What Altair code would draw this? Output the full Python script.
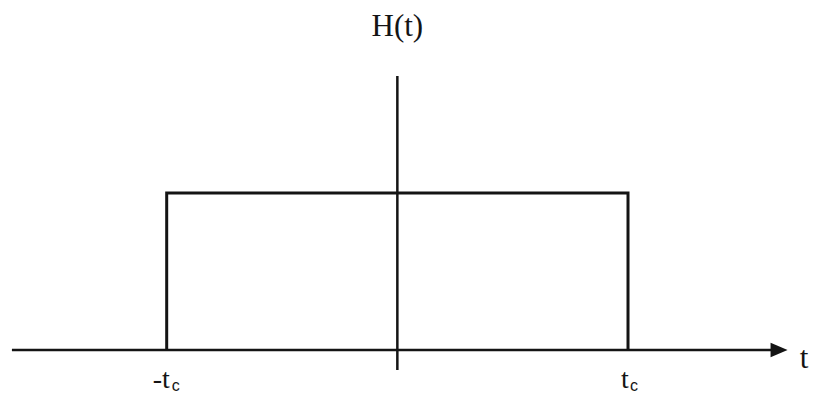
import altair as alt
import pandas as pd

# Rectangular pulse H(t): value 1 between -t_c and t_c
pulse_t = [-1.0, -1.0, 1.0, 1.0]
pulse_h = [0.0, 1.0, 1.0, 0.0]
pulse_order = [0, 1, 2, 3]

# axis extents (data units)
haxis_t = [-1.671, 1.63]
vaxis_h = [-0.127, 1.745]
arrow_t = [1.655]
axis_name_t = [1.763]

tick_t = [-1.0, 1.0]
tick_main = ["-t", "t"]
tick_main_dx = [-14, -7]
tick_sub = ["c", "c"]
tick_sub_dx = [5, 2]

X_DOMAIN = [-1.688, 1.789]
Y_DOMAIN = [-0.287, 2.178]

xs = alt.Scale(domain=X_DOMAIN)
ys = alt.Scale(domain=Y_DOMAIN)
INK = "#141414"

pulse_df = pd.DataFrame({"t": pulse_t, "h": pulse_h, "o": pulse_order})
pulse = alt.Chart(pulse_df).mark_line(color=INK, strokeWidth=3, strokeJoin="miter").encode(
    x=alt.X("t:Q", scale=xs, axis=None),
    y=alt.Y("h:Q", scale=ys, axis=None),
    order="o:Q",
)

hax = alt.Chart(pd.DataFrame({"t": [haxis_t[0]], "t2": [haxis_t[1]], "h": [0.0]})).mark_rule(
    color=INK, strokeWidth=2.5
).encode(x=alt.X("t:Q", scale=xs, axis=None), x2="t2:Q", y=alt.Y("h:Q", scale=ys, axis=None))

vax = alt.Chart(pd.DataFrame({"t": [0.0], "h": [vaxis_h[0]], "h2": [vaxis_h[1]]})).mark_rule(
    color=INK, strokeWidth=2.5
).encode(x=alt.X("t:Q", scale=xs, axis=None), y=alt.Y("h:Q", scale=ys, axis=None), y2="h2:Q")

arrow = alt.Chart(pd.DataFrame({"t": arrow_t, "h": [0.0]})).mark_point(
    shape="M-1,-0.85L1,0L-1,0.85Z", filled=True, color=INK, opacity=1, size=289, strokeWidth=0
).encode(x=alt.X("t:Q", scale=xs, axis=None), y=alt.Y("h:Q", scale=ys, axis=None))

title = alt.Chart(pd.DataFrame({"t": [0.0], "h": [2.0], "s": ["H(t)"]})).mark_text(
    font="Liberation Serif", fontSize=31, color=INK, align="center", baseline="alphabetic"
).encode(x=alt.X("t:Q", scale=xs, axis=None), y=alt.Y("h:Q", scale=ys, axis=None), text="s:N")

tlabel = alt.Chart(pd.DataFrame({"t": axis_name_t, "h": [0.0], "s": ["t"]})).mark_text(
    font="Liberation Serif", fontSize=31, color=INK, align="center", baseline="alphabetic", dy=18
).encode(x=alt.X("t:Q", scale=xs, axis=None), y=alt.Y("h:Q", scale=ys, axis=None), text="s:N")

tick_df = pd.DataFrame({"t": tick_t, "h": [0.0, 0.0], "s": tick_main, "dx": tick_main_dx,
                        "c": tick_sub, "cdx": tick_sub_dx})

main_layers = []
for i in range(len(tick_t)):
    row = tick_df.iloc[[i]]
    main_layers.append(
        alt.Chart(row).mark_text(
            font="Liberation Serif", fontSize=28, color=INK, align="left", baseline="bottom",
            dx=int(tick_main_dx[i]), dy=44
        ).encode(x=alt.X("t:Q", scale=xs, axis=None), y=alt.Y("h:Q", scale=ys, axis=None), text="s:N")
    )
    main_layers.append(
        alt.Chart(row).mark_text(
            font="Liberation Sans", fontSize=16, color=INK, align="left", baseline="bottom",
            dx=int(tick_sub_dx[i]), dy=44
        ).encode(x=alt.X("t:Q", scale=xs, axis=None), y=alt.Y("h:Q", scale=ys, axis=None), text="c:N")
    )

chart = alt.layer(pulse, hax, vax, arrow, title, tlabel, *main_layers).properties(
    width=802, height=387, padding=0, autosize=alt.AutoSizeParams(type="none"),
    background="white",
).configure_view(stroke=None)

chart.save("out.html", embed_options={"renderer": "svg", "actions": False})
